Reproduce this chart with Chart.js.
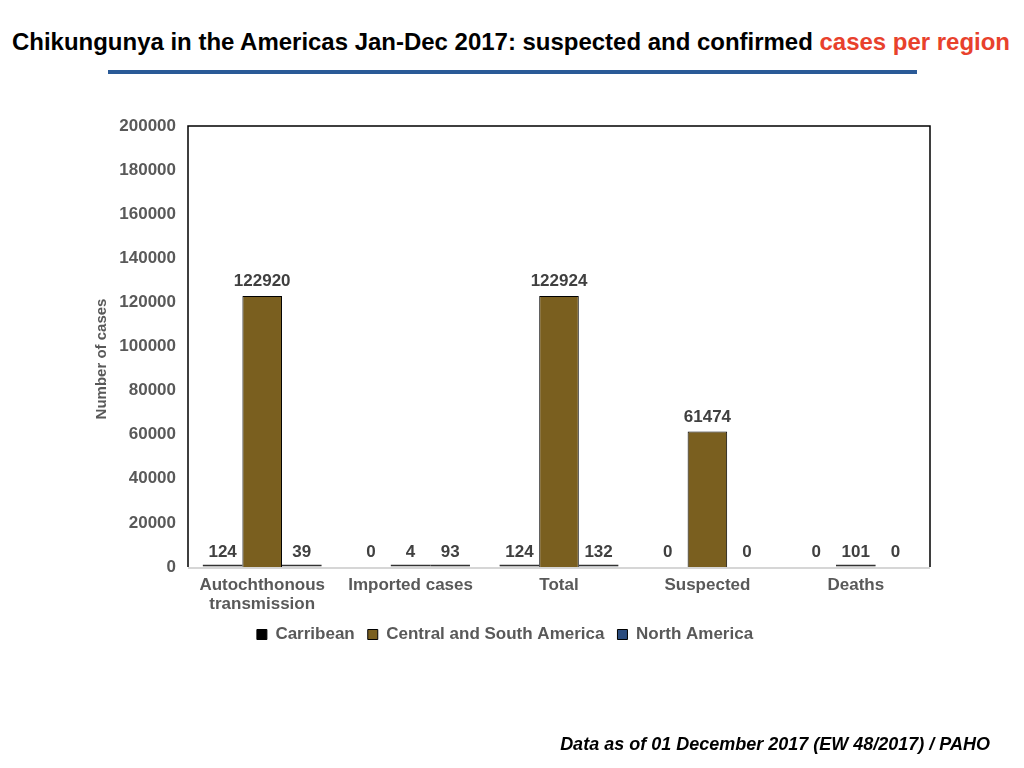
<!DOCTYPE html>
<html>
<head>
<meta charset="utf-8">
<script src="https://cdn.jsdelivr.net/npm/chart.js@4.4.0/dist/chart.umd.min.js"></script>
<style>
  html,body{margin:0;padding:0;background:#fff;width:1024px;height:768px;overflow:hidden;}
  #wrap{position:absolute;left:0;top:0;width:1024px;height:768px;}
  #title{position:absolute;left:12px;top:28px;
    font-family:"Liberation Sans",Arial,sans-serif;transform-origin:0 0;
    font-weight:bold;font-size:24px;line-height:28px;color:#000;white-space:nowrap;}
  #title span{color:#e8412c;}
  #rule{position:absolute;left:108px;top:70px;width:809px;height:4px;background:#2a5a97;}
  #foot{position:absolute;right:34px;top:734px;font-family:"Liberation Sans",Arial,sans-serif;
    font-weight:bold;font-style:italic;font-size:18px;color:#000;white-space:nowrap;}
  canvas{position:absolute;left:0;top:0;}
</style>
</head>
<body>
<div id="wrap">
  <div id="title">Chikungunya in the Americas Jan-Dec 2017: suspected and confirmed <span>cases per region</span></div>
  <div id="rule"></div>
  <canvas id="c" width="1024" height="768"></canvas>
  <div id="foot">Data as of 01 December 2017 (EW 48/2017) / PAHO</div>
</div>
<script>
const categories = [["Autochthonous","transmission"], "Imported cases", "Total", "Suspected", "Deaths"];
const seriesNames = ["Carribean", "Central and South America", "North America"];
const carribean = [124, 0, 124, 0, 0];
const centralSouth = [122920, 4, 122924, 61474, 101];
const northAmerica = [39, 93, 132, 0, 0];
const yTicks = [0, 20000, 40000, 60000, 80000, 100000, 120000, 140000, 160000, 180000, 200000];
const yTitle = "Number of cases";

// fit the condensed-looking title to the reference width
(function(){
  const t = document.getElementById('title');
  const w = t.getBoundingClientRect().width;
  t.style.transform = 'scaleX(' + (998 / w) + ')';
})();

const FONT = '"Liberation Sans", Arial, Helvetica, sans-serif';
const GREY = '#595959';

const labelPlugin = {
  id: 'valueLabels',
  afterDatasetsDraw(chart) {
    const ctx = chart.ctx;
    ctx.save();
    // thin outline for tiny non-zero bars
    chart.data.datasets.forEach((ds, i) => {
      const meta = chart.getDatasetMeta(i);
      meta.data.forEach((bar, j) => {
        if (ds.data[j] > 0 && Math.abs(bar.base - bar.y) < 2) {
          ctx.strokeStyle = '#333333';
          ctx.lineWidth = 1.5;
          ctx.beginPath();
          ctx.moveTo(bar.x - bar.width / 2, bar.base - 1.5);
          ctx.lineTo(bar.x + bar.width / 2, bar.base - 1.5);
          ctx.stroke();
        }
      });
    });
    ctx.font = 'bold 17px ' + FONT;
    ctx.fillStyle = '#404040';
    ctx.textAlign = 'center';
    ctx.textBaseline = 'bottom';
    chart.data.datasets.forEach((ds, i) => {
      const meta = chart.getDatasetMeta(i);
      meta.data.forEach((bar, j) => {
        ctx.fillText(String(ds.data[j]), bar.x, bar.y - 6);
      });
    });
    ctx.restore();
  }
};

const framePlugin = {
  id: 'frame',
  afterDraw(chart) {
    const a = chart.chartArea, ctx = chart.ctx;
    ctx.save();
    ctx.strokeStyle = '#000';
    ctx.lineWidth = 1.5;
    ctx.beginPath();
    ctx.moveTo(a.left, a.bottom);
    ctx.lineTo(a.left, a.top);
    ctx.lineTo(a.right, a.top);
    ctx.lineTo(a.right, a.bottom);
    ctx.stroke();
    ctx.strokeStyle = '#c8c8c8';
    ctx.lineWidth = 1.5;
    ctx.beginPath();
    ctx.moveTo(a.left, a.bottom + 1);
    ctx.lineTo(a.right, a.bottom + 1);
    ctx.stroke();
    // y axis title
    ctx.translate(102, 359);
    ctx.rotate(-Math.PI / 2);
    ctx.font = 'bold 15px ' + FONT;
    ctx.fillStyle = GREY;
    ctx.textAlign = 'center';
    ctx.textBaseline = 'middle';
    ctx.fillText(yTitle, 0, 0);
    ctx.restore();
  }
};

new Chart(document.getElementById('c'), {
  type: 'bar',
  data: {
    labels: categories,
    datasets: [
      { label: seriesNames[0], data: carribean, backgroundColor: '#000000', borderColor: '#000000', borderWidth: 1 },
      { label: seriesNames[1], data: centralSouth, backgroundColor: '#7a5f1f', borderColor: '#000000', borderWidth: 1 },
      { label: seriesNames[2], data: northAmerica, backgroundColor: '#2b4c7e', borderColor: '#000000', borderWidth: 1 }
    ]
  },
  options: {
    responsive: false,
    animation: false,
    devicePixelRatio: 1,
    layout: { padding: { left: 80, right: 94, top: 126, bottom: 115 } },
    datasets: { bar: { categoryPercentage: 0.8, barPercentage: 1.0 } },
    plugins: {
      legend: {
        position: 'bottom',
        labels: {
          boxWidth: 10, boxHeight: 10, padding: 13,
          color: GREY, font: { family: FONT, size: 17, weight: 'bold' }
        }
      },
      tooltip: { enabled: false },
      title: { display: false }
    },
    scales: {
      x: {
        grid: { display: false, drawTicks: false },
        border: { display: false },
        ticks: { color: GREY, font: { family: FONT, size: 17, weight: 'bold', lineHeight: 1.1 }, padding: 9, maxRotation: 0, autoSkip: false },
        afterFit(s) { s.height = 46; }
      },
      y: {
        min: 0, max: 200000,
        afterBuildTicks(s) { s.ticks = yTicks.map(v => ({ value: v })); },
        grid: { display: false, drawTicks: false },
        border: { display: false },
        ticks: { color: GREY, font: { family: FONT, size: 17, weight: 'bold' }, padding: 12,
          callback: v => String(v) },
        title: { display: false },
        afterFit(s) { s.width = 108; }
      }
    }
  },
  plugins: [labelPlugin, framePlugin]
});
</script>
</body>
</html>
